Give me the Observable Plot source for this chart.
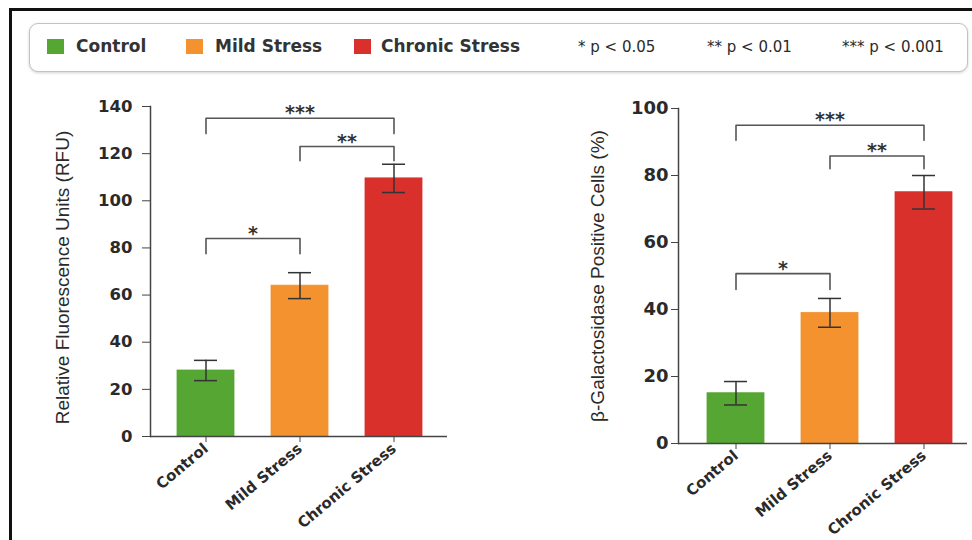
<!DOCTYPE html>
<html>
<head>
<meta charset="utf-8">
<script src="https://cdn.jsdelivr.net/npm/d3@7"></script>
<script src="https://cdn.jsdelivr.net/npm/@observablehq/plot@0.6"></script>
<style>
  html, body { margin: 0; padding: 0; background: #fff; }
  body { width: 972px; height: 540px; position: relative; overflow: hidden; font-family: "DejaVu Sans", sans-serif; }
  #frame { position: absolute; left: 9px; top: 8px; right: -5px; bottom: -5px; border-top: 3px solid #111; border-left: 3px solid #111; }
  #legend { position: absolute; left: 29px; top: 23px; width: 937px; height: 47px; border: 1.5px solid #c2c2c2; border-radius: 9px; box-shadow: 0 1px 3px rgba(0,0,0,0.18); background: #fff; }
  .sw { position: absolute; top: 15px; width: 17px; height: 15px; }
  .lt { position: absolute; top: 12px; font-size: 17px; font-weight: 600; color: #333; white-space: nowrap; line-height: 20px; }
  .pt { position: absolute; top: 13px; font-size: 15px; color: #2a2a2a; white-space: nowrap; line-height: 20px; }
  #left, #right { position: absolute; top: 80px; }
  #left { left: 0; }
  #right { left: 500px; }
</style>
</head>
<body>
<div id="frame"></div>
<div id="legend"></div>
<div id="left"></div>
<div id="right"></div>
<script>
// ---------- data ----------
const categories = ["Control", "Mild Stress", "Chronic Stress"];
const categoryColors = ["#55a632", "#f4922f", "#d9302b"];

const rfuMeans = [28, 64, 109.5];
const rfuErrors = [4.3, 5.5, 6];
const rfuTicks = [0, 20, 40, 60, 80, 100, 120, 140];
const rfuLabel = "Relative Fluorescence Units (RFU)";

const galMeans = [15, 39, 75];
const galErrors = [3.5, 4.3, 5];
const galTicks = [0, 20, 40, 60, 80, 100];
const galLabel = "β-Galactosidase Positive Cells (%)";

const bracketFrom = ["Control", "Mild Stress", "Control"];
const bracketTo = ["Mild Stress", "Chronic Stress", "Chronic Stress"];
const bracketStars = ["*", "**", "***"];
const rfuBracketTop = [84, 123, 135];
const rfuBracketLeg = [77.5, 117, 128.5];
const galBracketTop = [50.7, 85.8, 95];
const galBracketLeg = [46, 82, 90.5];

const pValueLabels = ["* p < 0.05", "** p < 0.01", "*** p < 0.001"];

// ---------- legend ----------
const legend = document.getElementById("legend");
const swatchLeft = [17, 156, 324];
const textLeft = [46, 185, 351];
const pLeft = [548, 677, 812];
categories.forEach((c, i) => {
  const s = document.createElement("div");
  s.className = "sw"; s.style.left = swatchLeft[i] + "px"; s.style.background = categoryColors[i];
  legend.appendChild(s);
  const t = document.createElement("div");
  t.className = "lt"; t.style.left = textLeft[i] + "px"; t.textContent = c;
  legend.appendChild(t);
});
pValueLabels.forEach((p, i) => {
  const t = document.createElement("div");
  t.className = "pt"; t.style.left = pLeft[i] + "px"; t.textContent = p;
  legend.appendChild(t);
});

// ---------- chart builder ----------
function chart(means, errors, ticks, yMax, label, tops, legs, cfg) {
  const rows = categories.map((c, i) => ({cat: c, value: means[i], err: errors[i]}));
  const brackets = [];
  bracketFrom.forEach((f, i) => {
    brackets.push({id: i, x: f, y: legs[i]});
    brackets.push({id: i, x: f, y: tops[i]});
    brackets.push({id: i, x: bracketTo[i], y: tops[i]});
    brackets.push({id: i, x: bracketTo[i], y: legs[i]});
  });
  const pi = 0.394, po = 0.287;
  const step = (cfg.range[1] - cfg.range[0]) / (categories.length - pi + 2 * po);
  const starMarks = bracketStars.map((s, i) => {
    const span = categories.indexOf(bracketTo[i]) - categories.indexOf(bracketFrom[i]);
    return Plot.text([i], {
      x: () => bracketFrom[i], y: () => tops[i], text: () => s,
      dx: span * step / 2, dy: 1, lineAnchor: "bottom",
      fontSize: 19, fontWeight: "bold", fill: "#333"
    });
  });
  return Plot.plot({
    width: cfg.width, height: 460,
    marginLeft: cfg.marginLeft, marginRight: cfg.marginRight,
    marginTop: cfg.marginTop, marginBottom: cfg.marginBottom,
    style: {fontFamily: "DejaVu Sans", color: "#2a2a2a", background: "transparent", overflow: "visible"},
    x: {domain: categories, range: cfg.range, paddingInner: pi, paddingOuter: po, label: null},
    y: {domain: [0, yMax], label: null},
    color: {domain: categories, range: categoryColors},
    marks: [
      Plot.barY(rows, {x: "cat", y: "value", fill: "cat", stroke: "cat", strokeWidth: 0.8}),
      Plot.ruleX(rows, {x: "cat", y1: d => d.value - d.err, y2: d => d.value + d.err, stroke: "#333", strokeWidth: 1.5}),
      Plot.tickY(rows, {x: "cat", y: d => d.value + d.err, stroke: "#333", strokeWidth: 1.5, insetLeft: 17, insetRight: 17}),
      Plot.tickY(rows, {x: "cat", y: d => d.value - d.err, stroke: "#333", strokeWidth: 1.5, insetLeft: 17, insetRight: 17}),
      Plot.line(brackets, {x: "x", y: "y", z: "id", stroke: "#555", strokeWidth: 1.6}),
      ...starMarks,
      Plot.ruleY([0], {stroke: "#444", strokeWidth: 1.5}),
      Plot.frame({anchor: "left", stroke: "#444", strokeWidth: 1.5}),
      Plot.axisY({ticks: ticks, tickSize: cfg.tickSize, tickPadding: cfg.tickPadding, fontSize: cfg.tickFont, fontWeight: 600, label: null, stroke: "#444"}),
      Plot.axisX({tickSize: 6, tickRotate: -40, tickPadding: 4, fontSize: 15, fontWeight: 600, label: null, stroke: "#444"}),
      Plot.text([label], {frameAnchor: "left", textAnchor: "middle", lineAnchor: "middle", dx: cfg.labelDx, dy: cfg.labelDy, rotate: -90, fontSize: 19, fontFamily: "Liberation Sans", fill: "#2a2a2a", text: d => d})
    ]
  });
}

document.getElementById("left").appendChild(
  chart(rfuMeans, rfuErrors, rfuTicks, 140, rfuLabel, rfuBracketTop, rfuBracketLeg,
    {width: 470, marginLeft: 150, marginRight: 23, marginTop: 26, marginBottom: 104, range: [150, 449], tickSize: 8, tickPadding: 10, tickFont: 16.5, labelDx: -88, labelDy: 6})
);
document.getElementById("right").appendChild(
  chart(galMeans, galErrors, galTicks, 100, galLabel, galBracketTop, galBracketLeg,
    {width: 472, marginLeft: 178, marginRight: 5, marginTop: 28, marginBottom: 97, range: [179.5, 478.5], tickSize: 7, tickPadding: 3, tickFont: 18, labelDx: -81, labelDy: 0})
);
</script>
</body>
</html>
